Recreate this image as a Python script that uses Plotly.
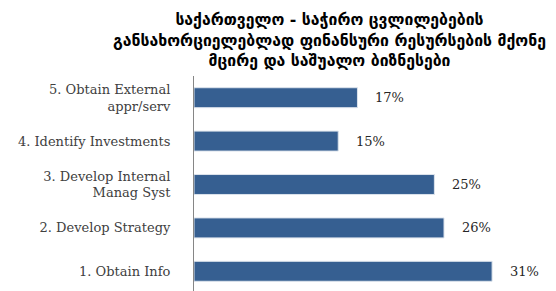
import plotly.graph_objects as go

categories = ["1. Obtain Info", "2. Develop Strategy", "3. Develop Internal<br>Manag Syst",
              "4. Identify Investments", "5. Obtain External<br>appr/serv"]
values = [31, 26, 25, 15, 17]
value_labels = [f"{v}%" for v in values]
title_text = ("საქართველო - საჭირო ცვლილებების<br>"
              "განსახორციელებლად ფინანსური რესურსების მქონე<br>"
              "მცირე და საშუალო ბიზნესები")

bar_color = "#365F91"

fig = go.Figure()
fig.add_trace(go.Bar(
    y=categories, x=values, orientation="h",
    marker=dict(color=bar_color, line=dict(color="#DCE3EC", width=1)),
    width=0.46,
    hoverinfo="skip",
))
for c, v, t in zip(categories, values, value_labels):
    fig.add_annotation(x=v, y=c, text=t, showarrow=False, xanchor="left",
                       xshift=16, font=dict(family="DejaVu Serif", size=13, color="#262626"))

fig.add_annotation(text=title_text, xref="paper", yref="paper", x=0.386, y=1.0,
                   yshift=4, xanchor="center", yanchor="bottom", showarrow=False,
                   align="center",
                   font=dict(family="DejaVu Sans", size=15.8, color="black", weight="bold"))

fig.update_layout(
    width=556, height=291,
    margin=dict(l=186, r=20, t=68, b=6),
    paper_bgcolor="white", plot_bgcolor="white",
    showlegend=False,
    xaxis=dict(range=[0, 36.4], visible=False, fixedrange=True),
    yaxis=dict(showline=True, linecolor="#868686", linewidth=1, showgrid=False,
               ticks="", ticklabelstandoff=20,
               tickfont=dict(family="DejaVu Serif", size=13, color="#404040"),
               fixedrange=True),
)
fig.write_html("out.html")
